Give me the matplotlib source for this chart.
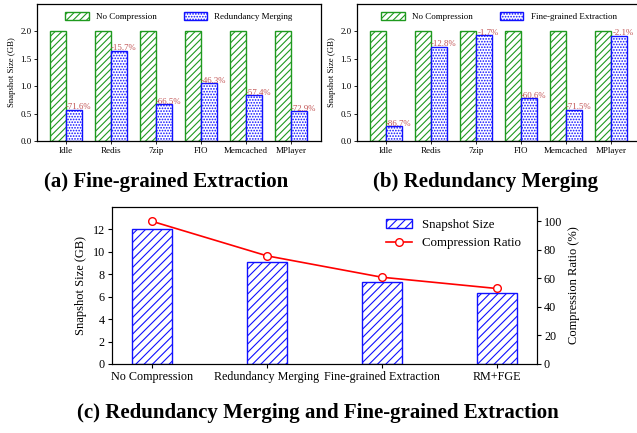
import matplotlib
matplotlib.use('Agg')
import numpy as np
import matplotlib.pyplot as plt

plt.rcParams['font.family'] = ['Liberation Serif', 'DejaVu Serif']
plt.rcParams['hatch.linewidth'] = 0.8

# data
apps = ['Idle', 'Redis', '7zip', 'FIO', 'Memcached', 'MPlayer']
no_comp = [2.0, 2.0, 2.0, 2.0, 2.0, 2.0]
# panel (a): redundancy merging
rm_size = [0.57, 1.65, 0.67, 1.05, 0.84, 0.54]
rm_pct = ['-71.6%', '-15.7%', '-66.5%', '-46.3%', '-57.4%', '-72.9%']
# panel (b): fine-grained extraction
fge_size = [0.27, 1.72, 1.93, 0.78, 0.57, 1.92]
fge_pct = ['-86.7%', '-12.8%', '-1.7%', '-60.6%', '-71.5%', '-2.1%']

# panel (c)
methods = ['No Compression', 'Redundancy Merging', 'Fine-grained Extraction', 'RM+FGE']
snap_size = [12.0, 9.1, 7.3, 6.35]
comp_ratio = [100, 75.8, 60.8, 52.9]

green = '#1f9a1f'
blue = '#1010ff'
red_txt = '#c05050'

W, H = 637, 433
fig = plt.figure(figsize=(W / 100., H / 100.), dpi=100)


def px_axes(x0, y0, x1, y1):
    return fig.add_axes([x0 / W, 1 - y1 / H, (x1 - x0) / W, (y1 - y0) / H])


def small_panel(ax, vals, pcts, label):
    x = np.arange(len(apps))
    w = 0.36
    ax.bar(x - w / 2, no_comp, w, facecolor='white', edgecolor=green,
           hatch='/////', lw=1.0, label='No Compression')
    ax.bar(x + w / 2, vals, w, facecolor='white', edgecolor=blue,
           hatch='......', lw=1.0, label=label)
    for xi, v, p in zip(x, vals, pcts):
        ax.text(xi + w / 2 + 0.1, v - 0.03, p, ha='center', va='bottom',
                fontsize=6.3, color=red_txt)
    ax.set_xlim(-0.64, 5.67)
    ax.set_ylim(0, 2.5)
    ax.set_yticks([0, 0.5, 1.0, 1.5, 2.0])
    ax.set_yticklabels(['0.0', '0.5', '1.0', '1.5', '2.0'])
    ax.set_xticks(x)
    ax.set_xticklabels(apps)
    ax.tick_params(labelsize=6.5, length=2, width=0.6, pad=2)
    ax.set_ylabel('Snapshot Size (GB)', fontsize=6.3, labelpad=3)
    for s in ax.spines.values():
        s.set_linewidth(0.9)
    ax.legend(loc='upper center', ncol=2, frameon=False, fontsize=6.5,
              handlelength=2.6, handleheight=1.0, columnspacing=3.0,
              borderaxespad=0.5)


ax1 = px_axes(37, 4, 321, 141)
small_panel(ax1, rm_size, rm_pct, 'Redundancy Merging')

ax2 = px_axes(357, 4, 641, 141)
small_panel(ax2, fge_size, fge_pct, 'Fine-grained Extraction')

# panel (c)
ax3 = px_axes(111.7, 207, 537, 364)
xc = np.arange(len(methods))
b = ax3.bar(xc, snap_size, 0.35, facecolor='white', edgecolor=blue,
            hatch='////', lw=1.0, label='Snapshot Size')
ax3.set_xlim(-0.35, 3.35)
ax3.set_ylim(0, 14)
ax3.set_yticks([0, 2, 4, 6, 8, 10, 12])
ax3.set_xticks(xc)
ax3.set_xticklabels(methods)
ax3.set_ylabel('Snapshot Size (GB)', fontsize=9)
ax3.tick_params(labelsize=8.7, length=3, pad=2)

ax4 = ax3.twinx()
ln, = ax4.plot(xc, comp_ratio, color='red', lw=1.2, marker='o', ms=5.5,
               markerfacecolor='white', markeredgecolor='red', mew=1.0,
               label='Compression Ratio')
ax4.set_ylim(0, 110)
ax4.set_yticks([0, 20, 40, 60, 80, 100])
ax4.set_ylabel('Compression Ratio (%)', fontsize=9)
ax4.tick_params(labelsize=8.7, length=3, pad=2)
ax4.legend([b, ln], ['Snapshot Size', 'Compression Ratio'], loc='upper right',
           frameon=False, fontsize=9.3, handlelength=2.0,
           bbox_to_anchor=(0.99, 1.0))

# captions
cap = dict(fontsize=15, fontweight='bold', ha='center', va='center')
fig.text(166 / W, 1 - 182 / H, '(a) Fine-grained Extraction', **cap)
fig.text(486 / W, 1 - 182 / H, '(b) Redundancy Merging', **cap)
fig.text(318 / W, 1 - 413 / H, '(c) Redundancy Merging and Fine-grained Extraction', **cap)

fig.savefig('out.png', dpi=100)
